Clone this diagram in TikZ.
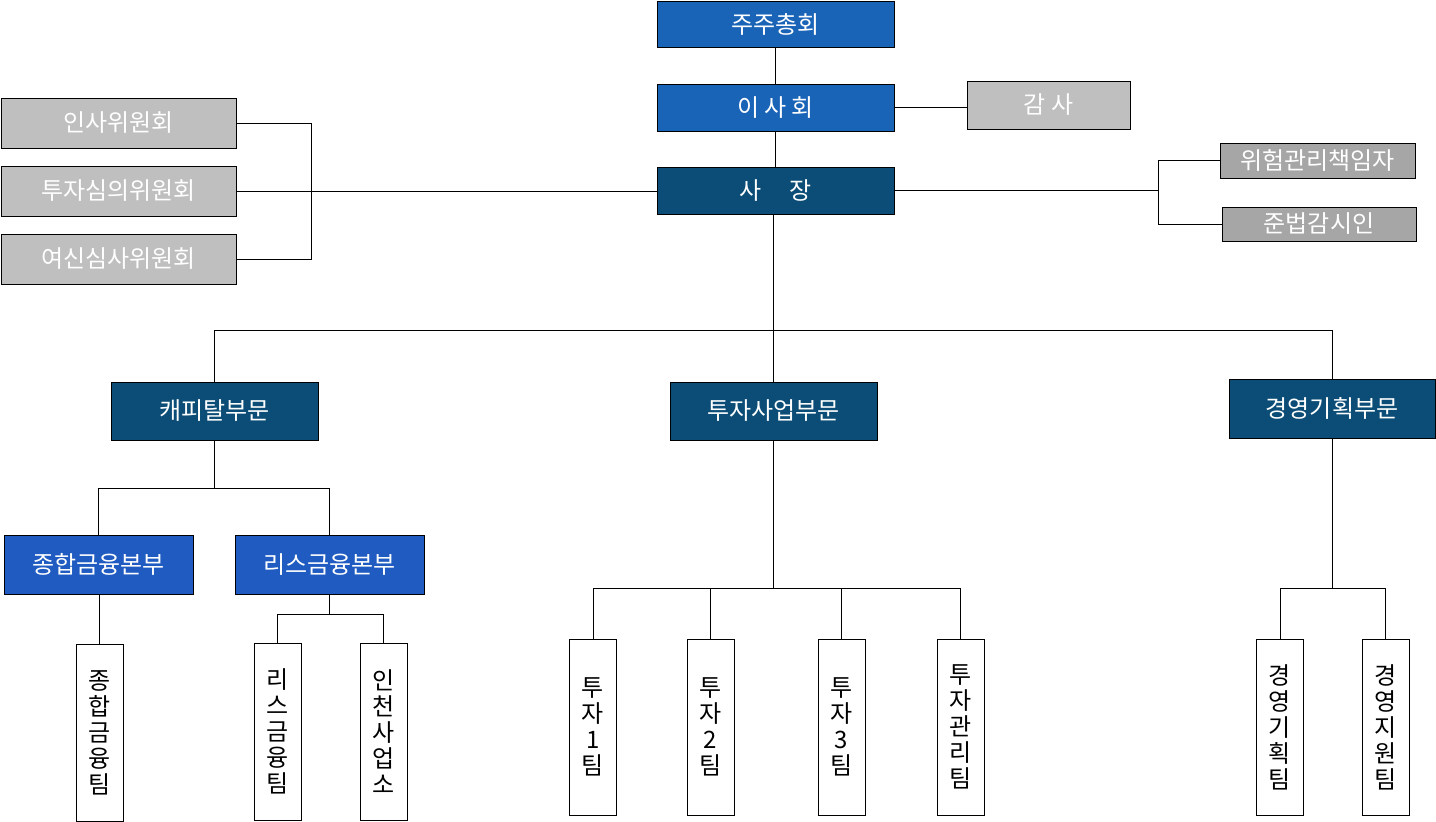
\documentclass[tikz,border=0pt]{standalone}
\usepackage{fontspec}
\setmainfont{Noto Sans CJK KR}
\definecolor{topblue}{HTML}{1A64B8}
\definecolor{midblue}{HTML}{1F5BC0}
\definecolor{darkblue}{HTML}{0B4D76}
\definecolor{lgray}{HTML}{BFBFBF}
\definecolor{dgray}{HTML}{A6A6A6}
\tikzset{
  box/.style={draw=black, line width=1pt, rectangle, inner sep=0pt, align=center, font=\fontsize{24}{28}\selectfont},
  bluebox/.style={box, fill=topblue, text=white},
  midbox/.style={box, fill=midblue, text=white},
  darkbox/.style={box, fill=darkblue, text=white},
  graybox/.style={box, fill=lgray, text=white},
  dgraybox/.style={box, fill=dgray, text=white},
  teambox/.style={box, fill=white, text=black, minimum width=47pt, minimum height=177pt, font=\fontsize{24}{26}\selectfont},
  conn/.style={draw=black, line width=0.9pt}
}
\begin{document}
\begin{tikzpicture}[x=1pt,y=-1pt]
\useasboundingbox (0,0) rectangle (1436,822);
% top chain
\node[bluebox, minimum width=237pt, minimum height=46pt] (ss) at (775.5,24) {주주총회};
\node[bluebox, minimum width=237pt, minimum height=47pt] (bd) at (775.5,107.5) {이 사 회};
\node[graybox, minimum width=163pt, minimum height=48pt] (aud) at (1048.5,105) {감 사};
\node[darkbox, minimum width=237pt, minimum height=47pt] (ceo) at (775.5,190.5) {사\hspace{1.2em}장};
% committees
\node[graybox, minimum width=235pt, minimum height=50pt] (c1) at (118.5,123) {인사위원회};
\node[graybox, minimum width=235pt, minimum height=50pt] (c2) at (118.5,191) {투자심의위원회};
\node[graybox, minimum width=235pt, minimum height=50pt] (c3) at (118.5,259) {여신심사위원회};
% right officers
\node[dgraybox, minimum width=195pt, minimum height=35pt] (r1) at (1317.5,160.5) {위험관리책임자};
\node[dgraybox, minimum width=194pt, minimum height=34pt] (r2) at (1319,224) {준법감시인};
% divisions
\node[darkbox, minimum width=207pt, minimum height=58pt] (d1) at (214.5,411) {캐피탈부문};
\node[darkbox, minimum width=207pt, minimum height=58pt] (d2) at (773.5,411) {투자사업부문};
\node[darkbox, minimum width=206pt, minimum height=59pt] (d3) at (1332,408.5) {경영기획부문};
% headquarters
\node[midbox, minimum width=189pt, minimum height=59pt] (h1) at (98.5,564.5) {종합금융본부};
\node[midbox, minimum width=189pt, minimum height=59pt] (h2) at (329.5,564.5) {리스금융본부};
% teams
\node[teambox] (t1) at (99.5,732.5) {종\\합\\금\\융\\팀};
\node[teambox] (t2) at (277.5,731.5) {리\\스\\금\\융\\팀};
\node[teambox] (t3) at (383.5,731.5) {인\\천\\사\\업\\소};
\node[teambox, minimum height=176pt] (i1) at (593,727) {투\\자\\1\\팀};
\node[teambox, minimum height=176pt] (i2) at (710.5,727) {투\\자\\2\\팀};
\node[teambox, minimum height=176pt] (i3) at (841.5,727) {투\\자\\3\\팀};
\node[teambox, minimum height=176pt] (i4) at (960.5,727) {투\\자\\관\\리\\팀};
\node[teambox, minimum height=176pt] (m1) at (1280,727) {경\\영\\기\\획\\팀};
\node[teambox, minimum height=176pt] (m2) at (1385.5,727) {경\\영\\지\\원\\팀};
% junction coordinates
\coordinate (lb) at (311,191);
\coordinate (rb) at (1158,191);
\coordinate (bus) at (773.5,330);
\coordinate (cb) at (214.5,488);
\coordinate (lb2) at (329.5,614);
\coordinate (ib) at (773.5,588);
\coordinate (mb) at (1332,588);
% connectors
\draw[conn] (ss.south) -- (bd.north);
\draw[conn] (bd.south) -- (ceo.north);
\draw[conn] (bd.east) -- (bd.east -| aud.west);
\draw[conn] (c1.east) -- (c1.east -| lb) -- (c3.east -| lb) -- (c3.east);
\draw[conn] (c2.east) -- (c2.east -| ceo.west);
\draw[conn] (ceo.east) -- (ceo.east -| rb);
\draw[conn] (r1.west) -- (r1.west -| rb) -- (r2.west -| rb) -- (r2.west);
\draw[conn] (ceo.south -| d2.north) -- (d2.north);
\draw[conn] (d1.north) -- (d1.north |- bus) -- (d3.north |- bus) -- (d3.north);
\draw[conn] (d1.south) -- (cb);
\draw[conn] (h1.north) -- (h1.north |- cb) -- (h2.north |- cb) -- (h2.north);
\draw[conn] (h1.south) -- (h1.south -| t1.north) -- (t1.north);
\draw[conn] (h2.south) -- (lb2);
\draw[conn] (t2.north) -- (t2.north |- lb2) -- (t3.north |- lb2) -- (t3.north);
\draw[conn] (d2.south) -- (ib);
\draw[conn] (i1.north) -- (i1.north |- ib) -- (i4.north |- ib) -- (i4.north);
\draw[conn] (i2.north) -- (i2.north |- ib);
\draw[conn] (i3.north) -- (i3.north |- ib);
\draw[conn] (d3.south) -- (mb);
\draw[conn] (m1.north) -- (m1.north |- mb) -- (m2.north |- mb) -- (m2.north);
\end{tikzpicture}
\end{document}
